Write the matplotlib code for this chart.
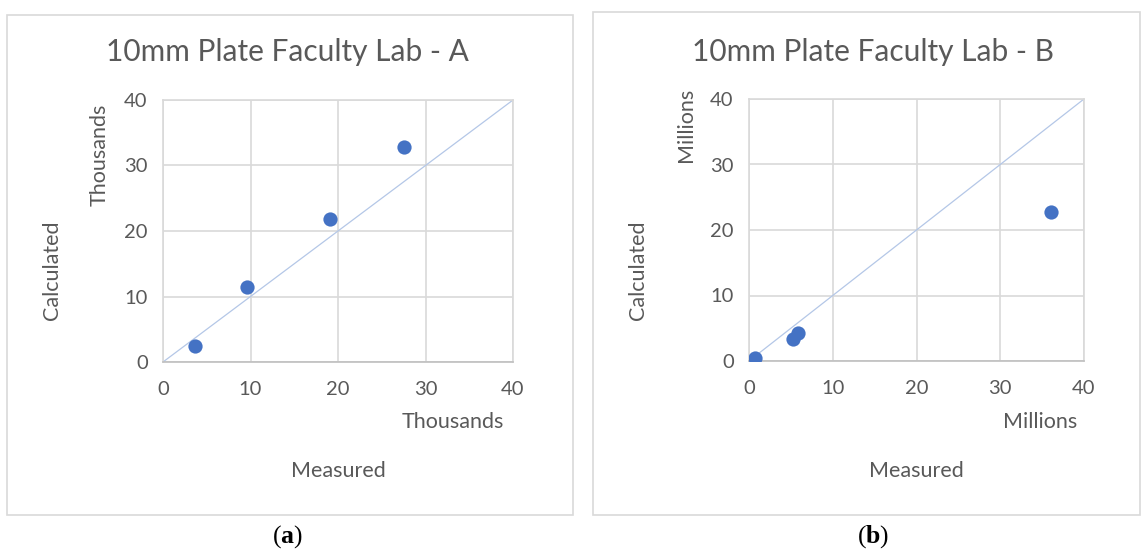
import matplotlib
matplotlib.use("Agg")
import matplotlib.pyplot as plt
from matplotlib.patches import Rectangle

# data (units: thousands for A, millions for B)
measured_a = [3.7, 9.6, 19.1, 27.5]
calculated_a = [2.5, 11.5, 21.8, 32.8]
measured_b = [0.7, 5.3, 5.8, 36.1]
calculated_b = [0.4, 3.4, 4.3, 22.7]
ticks = [0, 10, 20, 30, 40]

W, H = 1145, 552
plt.rcParams['font.family'] = ['Lato', 'DejaVu Sans']
plt.rcParams['mathtext.fontset'] = 'custom'
plt.rcParams['mathtext.bf'] = 'Liberation Serif:bold'
plt.rcParams['mathtext.rm'] = 'Liberation Serif'

txt = '#595959'
grid = '#d9d9d9'
dot = '#4472c4'
diag = '#b4c7e7'

fig = plt.figure(figsize=(W / 100, H / 100), dpi=100)
fig.patch.set_facecolor('white')


def fx(x):
    return x / W


def fy(y):
    return 1 - y / H


def panel(box, ax_px, xs, ys, title, unit, unit_x, unit_y, label, cx):
    # outer frame of the excel chart
    bx0, by0, bx1, by1 = box
    fig.patches.append(Rectangle((fx(bx0), fy(by1)), fx(bx1 - bx0), (by1 - by0) / H,
                                 transform=fig.transFigure, fill=False,
                                 edgecolor=grid, linewidth=1.2))
    l, t, r, b = ax_px
    ax = fig.add_axes([fx(l), fy(b), fx(r - l), (b - t) / H])
    ax.set_xlim(0, 40)
    ax.set_ylim(0, 40)
    ax.set_xticks(ticks)
    ax.set_yticks(ticks)
    ax.grid(True, color=grid, linewidth=1.2)
    ax.set_axisbelow(True)
    for s in ax.spines.values():
        s.set_color(grid)
        s.set_linewidth(1.2)
    ax.spines['bottom'].set_color('#bfbfbf')
    ax.tick_params(length=0, labelsize=14.5, labelcolor=txt)
    ax.tick_params(axis='x', pad=14)
    ax.tick_params(axis='y', pad=11)
    ax.plot([0, 40], [0, 40], color=diag, linewidth=0.9, zorder=2)
    ax.scatter(xs, ys, s=105, color=dot, zorder=3, linewidths=0)

    fig.text(fx(cx), fy(52), title, ha='center', va='center', fontsize=21.5, color=txt)
    fig.text(fx(unit_x), fy(422), unit, ha='center', va='center', fontsize=15.5, color=txt)
    fig.text(fx(l - 63), fy(unit_y), unit, ha='center', va='center', fontsize=15.5,
             color=txt, rotation=90)
    fig.text(fx(l - 111), fy(270), 'Calculated', ha='center', va='center', fontsize=15.5,
             color=txt, rotation=90)
    fig.text(fx((l + r) / 2), fy(471), 'Measured', ha='center', va='center', fontsize=15.5,
             color=txt)
    fig.text(fx(cx), fy(537), r'($\mathbf{' + label + r'}$)', ha='center', va='center',
             fontsize=18.5, color='black', family='Liberation Serif')
    return ax


panel((7, 15, 573, 515), (163, 100, 513, 362), measured_a, calculated_a,
      '10mm Plate Faculty Lab - A', 'Thousands', 453, 155, 'a', 287)
panel((593, 12, 1140, 515), (749, 99, 1084, 361), measured_b, calculated_b,
      '10mm Plate Faculty Lab - B', 'Millions', 1040, 125, 'b', 873)

fig.savefig('out.png', dpi=100)
